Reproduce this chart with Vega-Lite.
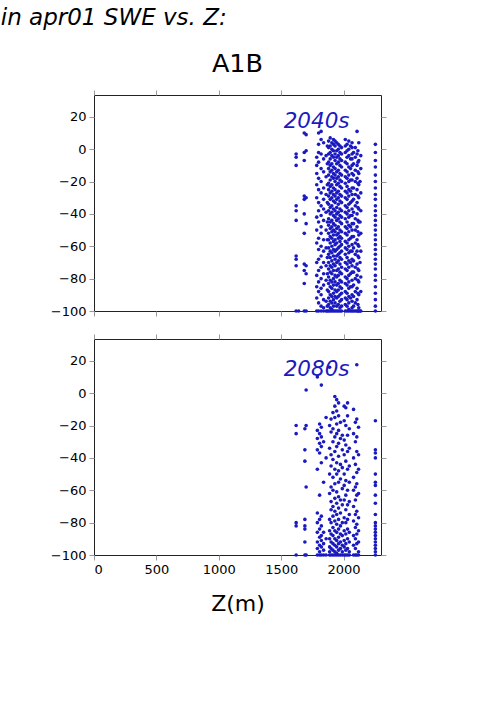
{
"$schema": "https://vega.github.io/schema/vega-lite/v6.json",
"padding": {"left": 0, "top": 6, "right": 5, "bottom": 5},
"config": {
  "font": "DejaVu Sans",
  "view": {"stroke": "#222", "strokeWidth": 1},
  "axis": {"labelFont": "DejaVu Sans", "labelFontSize": 13, "labelColor": "black", "tickColor": "#999", "tickSize": 5, "domain": false, "grid": false, "labelPadding": 3, "titleFont": "DejaVu Sans", "titleFontWeight": "normal", "titleColor": "black", "format": "d"}
},
"title": {"text": "in apr01 SWE vs. Z:", "anchor": "start", "frame": "bounds", "fontStyle": "italic", "fontWeight": "normal", "fontSize": 23, "font": "DejaVu Sans", "color": "black", "dx": -49, "offset": 22},
"datasets": {
"labs": [{"t": "2040s", "z": 1784, "s": 13}, {"t": "2080s", "z": 1784, "s": 10.5}],
"pts": [
{"t":"2040s","z":1620,"s":-3},{"t":"2040s","z":1620,"s":-5},{"t":"2040s","z":1620,"s":-10},{"t":"2040s","z":1620,"s":-35},{"t":"2040s","z":1620,"s":-38},{"t":"2040s","z":1620,"s":-44},{"t":"2040s","z":1620,"s":-66},{"t":"2040s","z":1620,"s":-68},{"t":"2040s","z":1620,"s":-72},{"t":"2040s","z":1620,"s":-100},
{"t":"2040s","z":1640,"s":-100},
{"t":"2040s","z":1685,"s":10},{"t":"2040s","z":1685,"s":-2},{"t":"2040s","z":1685,"s":-7},{"t":"2040s","z":1685,"s":-29},{"t":"2040s","z":1685,"s":-31},{"t":"2040s","z":1685,"s":-40},{"t":"2040s","z":1685,"s":-52},{"t":"2040s","z":1685,"s":-71},{"t":"2040s","z":1685,"s":-75},{"t":"2040s","z":1685,"s":-83},{"t":"2040s","z":1685,"s":-100},
{"t":"2040s","z":1700,"s":9},{"t":"2040s","z":1700,"s":-1},{"t":"2040s","z":1700,"s":-30},{"t":"2040s","z":1700,"s":-46},{"t":"2040s","z":1700,"s":-72},{"t":"2040s","z":1700,"s":-77},{"t":"2040s","z":1700,"s":-100},
{"t":"2040s","z":1785,"s":-5},{"t":"2040s","z":1785,"s":-10},{"t":"2040s","z":1785,"s":-15},{"t":"2040s","z":1785,"s":-22},{"t":"2040s","z":1785,"s":-30},{"t":"2040s","z":1785,"s":-42},{"t":"2040s","z":1785,"s":-50},{"t":"2040s","z":1785,"s":-58},{"t":"2040s","z":1785,"s":-70},{"t":"2040s","z":1785,"s":-78},{"t":"2040s","z":1785,"s":-85},{"t":"2040s","z":1785,"s":-92},{"t":"2040s","z":1785,"s":-100},
{"t":"2040s","z":1800,"s":10},{"t":"2040s","z":1800,"s":3},{"t":"2040s","z":1800,"s":-2},{"t":"2040s","z":1800,"s":-8},{"t":"2040s","z":1800,"s":-18},{"t":"2040s","z":1800,"s":-25},{"t":"2040s","z":1800,"s":-33},{"t":"2040s","z":1800,"s":-38},{"t":"2040s","z":1800,"s":-45},{"t":"2040s","z":1800,"s":-55},{"t":"2040s","z":1800,"s":-62},{"t":"2040s","z":1800,"s":-68},{"t":"2040s","z":1800,"s":-75},{"t":"2040s","z":1800,"s":-82},{"t":"2040s","z":1800,"s":-88},{"t":"2040s","z":1800,"s":-95},{"t":"2040s","z":1800,"s":-100},
{"t":"2040s","z":1820,"s":11},{"t":"2040s","z":1820,"s":6},{"t":"2040s","z":1820,"s":-3},{"t":"2040s","z":1820,"s":-12},{"t":"2040s","z":1820,"s":-20},{"t":"2040s","z":1820,"s":-27},{"t":"2040s","z":1820,"s":-35},{"t":"2040s","z":1820,"s":-41},{"t":"2040s","z":1820,"s":-48},{"t":"2040s","z":1820,"s":-52},{"t":"2040s","z":1820,"s":-60},{"t":"2040s","z":1820,"s":-66},{"t":"2040s","z":1820,"s":-73},{"t":"2040s","z":1820,"s":-80},{"t":"2040s","z":1820,"s":-86},{"t":"2040s","z":1820,"s":-90},{"t":"2040s","z":1820,"s":-97},{"t":"2040s","z":1820,"s":-100},
{"t":"2040s","z":1840,"s":4},{"t":"2040s","z":1840,"s":-6},{"t":"2040s","z":1840,"s":-14},{"t":"2040s","z":1840,"s":-24},{"t":"2040s","z":1840,"s":-31},{"t":"2040s","z":1840,"s":-37},{"t":"2040s","z":1840,"s":-44},{"t":"2040s","z":1840,"s":-56},{"t":"2040s","z":1840,"s":-63},{"t":"2040s","z":1840,"s":-70},{"t":"2040s","z":1840,"s":-77},{"t":"2040s","z":1840,"s":-84},{"t":"2040s","z":1840,"s":-93},{"t":"2040s","z":1840,"s":-98},{"t":"2040s","z":1840,"s":-100},
{"t":"2040s","z":1860,"s":-4},{"t":"2040s","z":1860,"s":-17},{"t":"2040s","z":1860,"s":-28},{"t":"2040s","z":1860,"s":-39},{"t":"2040s","z":1860,"s":-50},{"t":"2040s","z":1860,"s":-61},{"t":"2040s","z":1860,"s":-72},{"t":"2040s","z":1860,"s":-81},{"t":"2040s","z":1860,"s":-94},{"t":"2040s","z":1860,"s":-100},
{"t":"2040s","z":1870,"s":2},{"t":"2040s","z":1870,"s":-9},{"t":"2040s","z":1870,"s":-22},{"t":"2040s","z":1870,"s":-33},{"t":"2040s","z":1870,"s":-45},{"t":"2040s","z":1870,"s":-56},{"t":"2040s","z":1870,"s":-67},{"t":"2040s","z":1870,"s":-77},{"t":"2040s","z":1870,"s":-87},{"t":"2040s","z":1870,"s":-97},{"t":"2040s","z":1870,"s":-100},
{"t":"2040s","z":1880,"s":5},{"t":"2040s","z":1880,"s":1},{"t":"2040s","z":1880,"s":-3},{"t":"2040s","z":1880,"s":-8},{"t":"2040s","z":1880,"s":-12},{"t":"2040s","z":1880,"s":-16},{"t":"2040s","z":1880,"s":-21},{"t":"2040s","z":1880,"s":-25},{"t":"2040s","z":1880,"s":-29},{"t":"2040s","z":1880,"s":-34},{"t":"2040s","z":1880,"s":-38},{"t":"2040s","z":1880,"s":-43},{"t":"2040s","z":1880,"s":-47},{"t":"2040s","z":1880,"s":-52},{"t":"2040s","z":1880,"s":-56},{"t":"2040s","z":1880,"s":-61},{"t":"2040s","z":1880,"s":-65},{"t":"2040s","z":1880,"s":-70},{"t":"2040s","z":1880,"s":-74},{"t":"2040s","z":1880,"s":-79},{"t":"2040s","z":1880,"s":-83},{"t":"2040s","z":1880,"s":-88},{"t":"2040s","z":1880,"s":-92},{"t":"2040s","z":1880,"s":-96},{"t":"2040s","z":1880,"s":-100},
{"t":"2040s","z":1893,"s":7},{"t":"2040s","z":1893,"s":2},{"t":"2040s","z":1893,"s":-2},{"t":"2040s","z":1893,"s":-6},{"t":"2040s","z":1893,"s":-10},{"t":"2040s","z":1893,"s":-14},{"t":"2040s","z":1893,"s":-19},{"t":"2040s","z":1893,"s":-23},{"t":"2040s","z":1893,"s":-27},{"t":"2040s","z":1893,"s":-31},{"t":"2040s","z":1893,"s":-36},{"t":"2040s","z":1893,"s":-40},{"t":"2040s","z":1893,"s":-45},{"t":"2040s","z":1893,"s":-49},{"t":"2040s","z":1893,"s":-54},{"t":"2040s","z":1893,"s":-58},{"t":"2040s","z":1893,"s":-63},{"t":"2040s","z":1893,"s":-67},{"t":"2040s","z":1893,"s":-72},{"t":"2040s","z":1893,"s":-76},{"t":"2040s","z":1893,"s":-81},{"t":"2040s","z":1893,"s":-85},{"t":"2040s","z":1893,"s":-90},{"t":"2040s","z":1893,"s":-94},{"t":"2040s","z":1893,"s":-98},{"t":"2040s","z":1893,"s":-100},
{"t":"2040s","z":1906,"s":4},{"t":"2040s","z":1906,"s":0},{"t":"2040s","z":1906,"s":-4},{"t":"2040s","z":1906,"s":-9},{"t":"2040s","z":1906,"s":-13},{"t":"2040s","z":1906,"s":-17},{"t":"2040s","z":1906,"s":-22},{"t":"2040s","z":1906,"s":-26},{"t":"2040s","z":1906,"s":-30},{"t":"2040s","z":1906,"s":-35},{"t":"2040s","z":1906,"s":-39},{"t":"2040s","z":1906,"s":-44},{"t":"2040s","z":1906,"s":-48},{"t":"2040s","z":1906,"s":-51},{"t":"2040s","z":1906,"s":-55},{"t":"2040s","z":1906,"s":-60},{"t":"2040s","z":1906,"s":-64},{"t":"2040s","z":1906,"s":-69},{"t":"2040s","z":1906,"s":-73},{"t":"2040s","z":1906,"s":-77},{"t":"2040s","z":1906,"s":-82},{"t":"2040s","z":1906,"s":-86},{"t":"2040s","z":1906,"s":-91},{"t":"2040s","z":1906,"s":-95},{"t":"2040s","z":1906,"s":-99},{"t":"2040s","z":1906,"s":-100},
{"t":"2040s","z":1919,"s":6},{"t":"2040s","z":1919,"s":3},{"t":"2040s","z":1919,"s":-1},{"t":"2040s","z":1919,"s":-5},{"t":"2040s","z":1919,"s":-11},{"t":"2040s","z":1919,"s":-15},{"t":"2040s","z":1919,"s":-18},{"t":"2040s","z":1919,"s":-24},{"t":"2040s","z":1919,"s":-28},{"t":"2040s","z":1919,"s":-32},{"t":"2040s","z":1919,"s":-37},{"t":"2040s","z":1919,"s":-41},{"t":"2040s","z":1919,"s":-46},{"t":"2040s","z":1919,"s":-50},{"t":"2040s","z":1919,"s":-53},{"t":"2040s","z":1919,"s":-57},{"t":"2040s","z":1919,"s":-62},{"t":"2040s","z":1919,"s":-66},{"t":"2040s","z":1919,"s":-71},{"t":"2040s","z":1919,"s":-75},{"t":"2040s","z":1919,"s":-80},{"t":"2040s","z":1919,"s":-84},{"t":"2040s","z":1919,"s":-89},{"t":"2040s","z":1919,"s":-93},{"t":"2040s","z":1919,"s":-97},{"t":"2040s","z":1919,"s":-100},
{"t":"2040s","z":1932,"s":5},{"t":"2040s","z":1932,"s":2},{"t":"2040s","z":1932,"s":-3},{"t":"2040s","z":1932,"s":-7},{"t":"2040s","z":1932,"s":-12},{"t":"2040s","z":1932,"s":-16},{"t":"2040s","z":1932,"s":-20},{"t":"2040s","z":1932,"s":-25},{"t":"2040s","z":1932,"s":-29},{"t":"2040s","z":1932,"s":-33},{"t":"2040s","z":1932,"s":-38},{"t":"2040s","z":1932,"s":-42},{"t":"2040s","z":1932,"s":-47},{"t":"2040s","z":1932,"s":-51},{"t":"2040s","z":1932,"s":-56},{"t":"2040s","z":1932,"s":-59},{"t":"2040s","z":1932,"s":-63},{"t":"2040s","z":1932,"s":-68},{"t":"2040s","z":1932,"s":-72},{"t":"2040s","z":1932,"s":-78},{"t":"2040s","z":1932,"s":-82},{"t":"2040s","z":1932,"s":-87},{"t":"2040s","z":1932,"s":-91},{"t":"2040s","z":1932,"s":-95},{"t":"2040s","z":1932,"s":-100},
{"t":"2040s","z":1945,"s":4},{"t":"2040s","z":1945,"s":-1},{"t":"2040s","z":1945,"s":-5},{"t":"2040s","z":1945,"s":-9},{"t":"2040s","z":1945,"s":-14},{"t":"2040s","z":1945,"s":-18},{"t":"2040s","z":1945,"s":-22},{"t":"2040s","z":1945,"s":-27},{"t":"2040s","z":1945,"s":-31},{"t":"2040s","z":1945,"s":-36},{"t":"2040s","z":1945,"s":-40},{"t":"2040s","z":1945,"s":-44},{"t":"2040s","z":1945,"s":-49},{"t":"2040s","z":1945,"s":-53},{"t":"2040s","z":1945,"s":-58},{"t":"2040s","z":1945,"s":-62},{"t":"2040s","z":1945,"s":-66},{"t":"2040s","z":1945,"s":-70},{"t":"2040s","z":1945,"s":-75},{"t":"2040s","z":1945,"s":-79},{"t":"2040s","z":1945,"s":-84},{"t":"2040s","z":1945,"s":-88},{"t":"2040s","z":1945,"s":-92},{"t":"2040s","z":1945,"s":-97},{"t":"2040s","z":1945,"s":-100},
{"t":"2040s","z":1958,"s":3},{"t":"2040s","z":1958,"s":0},{"t":"2040s","z":1958,"s":-4},{"t":"2040s","z":1958,"s":-8},{"t":"2040s","z":1958,"s":-13},{"t":"2040s","z":1958,"s":-17},{"t":"2040s","z":1958,"s":-21},{"t":"2040s","z":1958,"s":-26},{"t":"2040s","z":1958,"s":-30},{"t":"2040s","z":1958,"s":-34},{"t":"2040s","z":1958,"s":-39},{"t":"2040s","z":1958,"s":-43},{"t":"2040s","z":1958,"s":-48},{"t":"2040s","z":1958,"s":-52},{"t":"2040s","z":1958,"s":-55},{"t":"2040s","z":1958,"s":-61},{"t":"2040s","z":1958,"s":-65},{"t":"2040s","z":1958,"s":-69},{"t":"2040s","z":1958,"s":-74},{"t":"2040s","z":1958,"s":-78},{"t":"2040s","z":1958,"s":-83},{"t":"2040s","z":1958,"s":-87},{"t":"2040s","z":1958,"s":-91},{"t":"2040s","z":1958,"s":-96},{"t":"2040s","z":1958,"s":-100},
{"t":"2040s","z":1971,"s":2},{"t":"2040s","z":1971,"s":-2},{"t":"2040s","z":1971,"s":-6},{"t":"2040s","z":1971,"s":-10},{"t":"2040s","z":1971,"s":-15},{"t":"2040s","z":1971,"s":-19},{"t":"2040s","z":1971,"s":-23},{"t":"2040s","z":1971,"s":-28},{"t":"2040s","z":1971,"s":-32},{"t":"2040s","z":1971,"s":-37},{"t":"2040s","z":1971,"s":-41},{"t":"2040s","z":1971,"s":-45},{"t":"2040s","z":1971,"s":-50},{"t":"2040s","z":1971,"s":-54},{"t":"2040s","z":1971,"s":-57},{"t":"2040s","z":1971,"s":-60},{"t":"2040s","z":1971,"s":-64},{"t":"2040s","z":1971,"s":-67},{"t":"2040s","z":1971,"s":-71},{"t":"2040s","z":1971,"s":-76},{"t":"2040s","z":1971,"s":-81},{"t":"2040s","z":1971,"s":-85},{"t":"2040s","z":1971,"s":-90},{"t":"2040s","z":1971,"s":-94},{"t":"2040s","z":1971,"s":-98},{"t":"2040s","z":1971,"s":-100},
{"t":"2040s","z":1984,"s":1},{"t":"2040s","z":1984,"s":-3},{"t":"2040s","z":1984,"s":-7},{"t":"2040s","z":1984,"s":-11},{"t":"2040s","z":1984,"s":-16},{"t":"2040s","z":1984,"s":-20},{"t":"2040s","z":1984,"s":-24},{"t":"2040s","z":1984,"s":-29},{"t":"2040s","z":1984,"s":-33},{"t":"2040s","z":1984,"s":-38},{"t":"2040s","z":1984,"s":-42},{"t":"2040s","z":1984,"s":-46},{"t":"2040s","z":1984,"s":-51},{"t":"2040s","z":1984,"s":-55},{"t":"2040s","z":1984,"s":-59},{"t":"2040s","z":1984,"s":-63},{"t":"2040s","z":1984,"s":-68},{"t":"2040s","z":1984,"s":-73},{"t":"2040s","z":1984,"s":-77},{"t":"2040s","z":1984,"s":-82},{"t":"2040s","z":1984,"s":-86},{"t":"2040s","z":1984,"s":-89},{"t":"2040s","z":1984,"s":-93},{"t":"2040s","z":1984,"s":-97},{"t":"2040s","z":1984,"s":-100},
{"t":"2040s","z":2068,"s":4},{"t":"2040s","z":2068,"s":1},{"t":"2040s","z":2068,"s":-3},{"t":"2040s","z":2068,"s":-6},{"t":"2040s","z":2068,"s":-10},{"t":"2040s","z":2068,"s":-15},{"t":"2040s","z":2068,"s":-19},{"t":"2040s","z":2068,"s":-24},{"t":"2040s","z":2068,"s":-28},{"t":"2040s","z":2068,"s":-32},{"t":"2040s","z":2068,"s":-37},{"t":"2040s","z":2068,"s":-41},{"t":"2040s","z":2068,"s":-46},{"t":"2040s","z":2068,"s":-50},{"t":"2040s","z":2068,"s":-54},{"t":"2040s","z":2068,"s":-59},{"t":"2040s","z":2068,"s":-63},{"t":"2040s","z":2068,"s":-68},{"t":"2040s","z":2068,"s":-72},{"t":"2040s","z":2068,"s":-76},{"t":"2040s","z":2068,"s":-81},{"t":"2040s","z":2068,"s":-85},{"t":"2040s","z":2068,"s":-90},{"t":"2040s","z":2068,"s":-94},{"t":"2040s","z":2068,"s":-98},{"t":"2040s","z":2068,"s":-100},
{"t":"2040s","z":2014,"s":6},{"t":"2040s","z":2014,"s":2},{"t":"2040s","z":2014,"s":-2},{"t":"2040s","z":2014,"s":-8},{"t":"2040s","z":2014,"s":-13},{"t":"2040s","z":2014,"s":-17},{"t":"2040s","z":2014,"s":-21},{"t":"2040s","z":2014,"s":-26},{"t":"2040s","z":2014,"s":-30},{"t":"2040s","z":2014,"s":-35},{"t":"2040s","z":2014,"s":-39},{"t":"2040s","z":2014,"s":-43},{"t":"2040s","z":2014,"s":-48},{"t":"2040s","z":2014,"s":-52},{"t":"2040s","z":2014,"s":-57},{"t":"2040s","z":2014,"s":-61},{"t":"2040s","z":2014,"s":-65},{"t":"2040s","z":2014,"s":-70},{"t":"2040s","z":2014,"s":-74},{"t":"2040s","z":2014,"s":-79},{"t":"2040s","z":2014,"s":-83},{"t":"2040s","z":2014,"s":-88},{"t":"2040s","z":2014,"s":-92},{"t":"2040s","z":2014,"s":-96},{"t":"2040s","z":2014,"s":-100},
{"t":"2040s","z":2028,"s":3},{"t":"2040s","z":2028,"s":-1},{"t":"2040s","z":2028,"s":-5},{"t":"2040s","z":2028,"s":-9},{"t":"2040s","z":2028,"s":-14},{"t":"2040s","z":2028,"s":-18},{"t":"2040s","z":2028,"s":-23},{"t":"2040s","z":2028,"s":-27},{"t":"2040s","z":2028,"s":-31},{"t":"2040s","z":2028,"s":-36},{"t":"2040s","z":2028,"s":-40},{"t":"2040s","z":2028,"s":-45},{"t":"2040s","z":2028,"s":-49},{"t":"2040s","z":2028,"s":-53},{"t":"2040s","z":2028,"s":-58},{"t":"2040s","z":2028,"s":-62},{"t":"2040s","z":2028,"s":-67},{"t":"2040s","z":2028,"s":-71},{"t":"2040s","z":2028,"s":-75},{"t":"2040s","z":2028,"s":-80},{"t":"2040s","z":2028,"s":-84},{"t":"2040s","z":2028,"s":-89},{"t":"2040s","z":2028,"s":-93},{"t":"2040s","z":2028,"s":-97},{"t":"2040s","z":2028,"s":-100},
{"t":"2040s","z":2042,"s":5},{"t":"2040s","z":2042,"s":0},{"t":"2040s","z":2042,"s":-4},{"t":"2040s","z":2042,"s":-11},{"t":"2040s","z":2042,"s":-16},{"t":"2040s","z":2042,"s":-20},{"t":"2040s","z":2042,"s":-25},{"t":"2040s","z":2042,"s":-29},{"t":"2040s","z":2042,"s":-34},{"t":"2040s","z":2042,"s":-38},{"t":"2040s","z":2042,"s":-42},{"t":"2040s","z":2042,"s":-47},{"t":"2040s","z":2042,"s":-51},{"t":"2040s","z":2042,"s":-56},{"t":"2040s","z":2042,"s":-60},{"t":"2040s","z":2042,"s":-64},{"t":"2040s","z":2042,"s":-69},{"t":"2040s","z":2042,"s":-73},{"t":"2040s","z":2042,"s":-78},{"t":"2040s","z":2042,"s":-82},{"t":"2040s","z":2042,"s":-86},{"t":"2040s","z":2042,"s":-91},{"t":"2040s","z":2042,"s":-95},{"t":"2040s","z":2042,"s":-99},{"t":"2040s","z":2042,"s":-100},
{"t":"2040s","z":2056,"s":2},{"t":"2040s","z":2056,"s":-6},{"t":"2040s","z":2056,"s":-12},{"t":"2040s","z":2056,"s":-19},{"t":"2040s","z":2056,"s":-26},{"t":"2040s","z":2056,"s":-33},{"t":"2040s","z":2056,"s":-41},{"t":"2040s","z":2056,"s":-48},{"t":"2040s","z":2056,"s":-55},{"t":"2040s","z":2056,"s":-63},{"t":"2040s","z":2056,"s":-70},{"t":"2040s","z":2056,"s":-77},{"t":"2040s","z":2056,"s":-85},{"t":"2040s","z":2056,"s":-92},{"t":"2040s","z":2056,"s":-100},
{"t":"2040s","z":2080,"s":-2},{"t":"2040s","z":2080,"s":-9},{"t":"2040s","z":2080,"s":-16},{"t":"2040s","z":2080,"s":-24},{"t":"2040s","z":2080,"s":-31},{"t":"2040s","z":2080,"s":-39},{"t":"2040s","z":2080,"s":-46},{"t":"2040s","z":2080,"s":-54},{"t":"2040s","z":2080,"s":-61},{"t":"2040s","z":2080,"s":-69},{"t":"2040s","z":2080,"s":-76},{"t":"2040s","z":2080,"s":-84},{"t":"2040s","z":2080,"s":-91},{"t":"2040s","z":2080,"s":-97},{"t":"2040s","z":2080,"s":-100},
{"t":"2040s","z":2094,"s":1},{"t":"2040s","z":2094,"s":-5},{"t":"2040s","z":2094,"s":-13},{"t":"2040s","z":2094,"s":-20},{"t":"2040s","z":2094,"s":-28},{"t":"2040s","z":2094,"s":-35},{"t":"2040s","z":2094,"s":-43},{"t":"2040s","z":2094,"s":-50},{"t":"2040s","z":2094,"s":-58},{"t":"2040s","z":2094,"s":-65},{"t":"2040s","z":2094,"s":-73},{"t":"2040s","z":2094,"s":-80},{"t":"2040s","z":2094,"s":-88},{"t":"2040s","z":2094,"s":-95},{"t":"2040s","z":2094,"s":-100},
{"t":"2040s","z":2108,"s":11},{"t":"2040s","z":2108,"s":-3},{"t":"2040s","z":2108,"s":-10},{"t":"2040s","z":2108,"s":-18},{"t":"2040s","z":2108,"s":-25},{"t":"2040s","z":2108,"s":-33},{"t":"2040s","z":2108,"s":-40},{"t":"2040s","z":2108,"s":-48},{"t":"2040s","z":2108,"s":-56},{"t":"2040s","z":2108,"s":-63},{"t":"2040s","z":2108,"s":-71},{"t":"2040s","z":2108,"s":-78},{"t":"2040s","z":2108,"s":-86},{"t":"2040s","z":2108,"s":-93},{"t":"2040s","z":2108,"s":-100},
{"t":"2040s","z":2115,"s":-1},{"t":"2040s","z":2115,"s":-8},{"t":"2040s","z":2115,"s":-14},{"t":"2040s","z":2115,"s":-21},{"t":"2040s","z":2115,"s":-29},{"t":"2040s","z":2115,"s":-36},{"t":"2040s","z":2115,"s":-44},{"t":"2040s","z":2115,"s":-51},{"t":"2040s","z":2115,"s":-59},{"t":"2040s","z":2115,"s":-66},{"t":"2040s","z":2115,"s":-74},{"t":"2040s","z":2115,"s":-81},{"t":"2040s","z":2115,"s":-89},{"t":"2040s","z":2115,"s":-96},{"t":"2040s","z":2115,"s":-100},
{"t":"2040s","z":2122,"s":4},{"t":"2040s","z":2122,"s":-7},{"t":"2040s","z":2122,"s":-15},{"t":"2040s","z":2122,"s":-22},{"t":"2040s","z":2122,"s":-30},{"t":"2040s","z":2122,"s":-37},{"t":"2040s","z":2122,"s":-45},{"t":"2040s","z":2122,"s":-53},{"t":"2040s","z":2122,"s":-60},{"t":"2040s","z":2122,"s":-67},{"t":"2040s","z":2122,"s":-75},{"t":"2040s","z":2122,"s":-82},{"t":"2040s","z":2122,"s":-90},{"t":"2040s","z":2122,"s":-98},{"t":"2040s","z":2122,"s":-100},
{"t":"2040s","z":2132,"s":-20},{"t":"2040s","z":2132,"s":-45},{"t":"2040s","z":2132,"s":-70},{"t":"2040s","z":2132,"s":-100},
{"t":"2040s","z":2138,"s":-4},{"t":"2040s","z":2138,"s":-12},{"t":"2040s","z":2138,"s":-27},{"t":"2040s","z":2138,"s":-38},{"t":"2040s","z":2138,"s":-52},{"t":"2040s","z":2138,"s":-63},{"t":"2040s","z":2138,"s":-79},{"t":"2040s","z":2138,"s":-88},{"t":"2040s","z":2138,"s":-100},
{"t":"2040s","z":2255,"s":3},{"t":"2040s","z":2255,"s":-2},{"t":"2040s","z":2255,"s":-7},{"t":"2040s","z":2255,"s":-11},{"t":"2040s","z":2255,"s":-16},{"t":"2040s","z":2255,"s":-20},{"t":"2040s","z":2255,"s":-24},{"t":"2040s","z":2255,"s":-28},{"t":"2040s","z":2255,"s":-31},{"t":"2040s","z":2255,"s":-35},{"t":"2040s","z":2255,"s":-38},{"t":"2040s","z":2255,"s":-41},{"t":"2040s","z":2255,"s":-44},{"t":"2040s","z":2255,"s":-47},{"t":"2040s","z":2255,"s":-50},{"t":"2040s","z":2255,"s":-53},{"t":"2040s","z":2255,"s":-56},{"t":"2040s","z":2255,"s":-59},{"t":"2040s","z":2255,"s":-62},{"t":"2040s","z":2255,"s":-65},{"t":"2040s","z":2255,"s":-68},{"t":"2040s","z":2255,"s":-71},{"t":"2040s","z":2255,"s":-74},{"t":"2040s","z":2255,"s":-78},{"t":"2040s","z":2255,"s":-81},{"t":"2040s","z":2255,"s":-85},{"t":"2040s","z":2255,"s":-89},{"t":"2040s","z":2255,"s":-93},{"t":"2040s","z":2255,"s":-97},{"t":"2040s","z":2255,"s":-100},
{"t":"2080s","z":1620,"s":-20},{"t":"2080s","z":1620,"s":-25},{"t":"2080s","z":1620,"s":-80},{"t":"2080s","z":1620,"s":-82},{"t":"2080s","z":1620,"s":-100},
{"t":"2080s","z":1690,"s":-22},{"t":"2080s","z":1690,"s":-35},{"t":"2080s","z":1690,"s":-42},{"t":"2080s","z":1690,"s":-78},{"t":"2080s","z":1690,"s":-82},{"t":"2080s","z":1690,"s":-84},{"t":"2080s","z":1690,"s":-92},{"t":"2080s","z":1690,"s":-100},
{"t":"2080s","z":1700,"s":2},{"t":"2080s","z":1700,"s":-20},{"t":"2080s","z":1700,"s":-58},{"t":"2080s","z":1700,"s":-100},
{"t":"2080s","z":1790,"s":10},{"t":"2080s","z":1790,"s":-23},{"t":"2080s","z":1790,"s":-28},{"t":"2080s","z":1790,"s":-35},{"t":"2080s","z":1790,"s":-47},{"t":"2080s","z":1790,"s":-74},{"t":"2080s","z":1790,"s":-80},{"t":"2080s","z":1790,"s":-86},{"t":"2080s","z":1790,"s":-92},{"t":"2080s","z":1790,"s":-96},{"t":"2080s","z":1790,"s":-100},
{"t":"2080s","z":1808,"s":-19},{"t":"2080s","z":1808,"s":-25},{"t":"2080s","z":1808,"s":-31},{"t":"2080s","z":1808,"s":-37},{"t":"2080s","z":1808,"s":-63},{"t":"2080s","z":1808,"s":-78},{"t":"2080s","z":1808,"s":-84},{"t":"2080s","z":1808,"s":-89},{"t":"2080s","z":1808,"s":-94},{"t":"2080s","z":1808,"s":-98},{"t":"2080s","z":1808,"s":-100},
{"t":"2080s","z":1822,"s":5},{"t":"2080s","z":1822,"s":-21},{"t":"2080s","z":1822,"s":-27},{"t":"2080s","z":1822,"s":-33},{"t":"2080s","z":1822,"s":-43},{"t":"2080s","z":1822,"s":-76},{"t":"2080s","z":1822,"s":-82},{"t":"2080s","z":1822,"s":-88},{"t":"2080s","z":1822,"s":-91},{"t":"2080s","z":1822,"s":-95},{"t":"2080s","z":1822,"s":-100},
{"t":"2080s","z":1840,"s":-30},{"t":"2080s","z":1840,"s":-55},{"t":"2080s","z":1840,"s":-86},{"t":"2080s","z":1840,"s":-93},{"t":"2080s","z":1840,"s":-97},{"t":"2080s","z":1840,"s":-100},
{"t":"2080s","z":1860,"s":-15},{"t":"2080s","z":1860,"s":-40},{"t":"2080s","z":1860,"s":-90},{"t":"2080s","z":1860,"s":-100},
{"t":"2080s","z":1888,"s":16},{"t":"2080s","z":1888,"s":-20},{"t":"2080s","z":1888,"s":-34},{"t":"2080s","z":1888,"s":-50},{"t":"2080s","z":1888,"s":-62},{"t":"2080s","z":1888,"s":-78},{"t":"2080s","z":1888,"s":-85},{"t":"2080s","z":1888,"s":-90},{"t":"2080s","z":1888,"s":-95},{"t":"2080s","z":1888,"s":-98},{"t":"2080s","z":1888,"s":-100},
{"t":"2080s","z":1900,"s":-16},{"t":"2080s","z":1900,"s":-24},{"t":"2080s","z":1900,"s":-38},{"t":"2080s","z":1900,"s":-45},{"t":"2080s","z":1900,"s":-58},{"t":"2080s","z":1900,"s":-67},{"t":"2080s","z":1900,"s":-72},{"t":"2080s","z":1900,"s":-80},{"t":"2080s","z":1900,"s":-87},{"t":"2080s","z":1900,"s":-92},{"t":"2080s","z":1900,"s":-96},{"t":"2080s","z":1900,"s":-100},
{"t":"2080s","z":1915,"s":-12},{"t":"2080s","z":1915,"s":-22},{"t":"2080s","z":1915,"s":-30},{"t":"2080s","z":1915,"s":-41},{"t":"2080s","z":1915,"s":-52},{"t":"2080s","z":1915,"s":-60},{"t":"2080s","z":1915,"s":-70},{"t":"2080s","z":1915,"s":-76},{"t":"2080s","z":1915,"s":-83},{"t":"2080s","z":1915,"s":-88},{"t":"2080s","z":1915,"s":-93},{"t":"2080s","z":1915,"s":-97},{"t":"2080s","z":1915,"s":-100},
{"t":"2080s","z":1930,"s":-2},{"t":"2080s","z":1930,"s":-8},{"t":"2080s","z":1930,"s":-15},{"t":"2080s","z":1930,"s":-27},{"t":"2080s","z":1930,"s":-36},{"t":"2080s","z":1930,"s":-47},{"t":"2080s","z":1930,"s":-56},{"t":"2080s","z":1930,"s":-65},{"t":"2080s","z":1930,"s":-73},{"t":"2080s","z":1930,"s":-79},{"t":"2080s","z":1930,"s":-85},{"t":"2080s","z":1930,"s":-90},{"t":"2080s","z":1930,"s":-94},{"t":"2080s","z":1930,"s":-98},{"t":"2080s","z":1930,"s":-100},
{"t":"2080s","z":1945,"s":-4},{"t":"2080s","z":1945,"s":-11},{"t":"2080s","z":1945,"s":-19},{"t":"2080s","z":1945,"s":-25},{"t":"2080s","z":1945,"s":-33},{"t":"2080s","z":1945,"s":-43},{"t":"2080s","z":1945,"s":-50},{"t":"2080s","z":1945,"s":-61},{"t":"2080s","z":1945,"s":-68},{"t":"2080s","z":1945,"s":-75},{"t":"2080s","z":1945,"s":-81},{"t":"2080s","z":1945,"s":-86},{"t":"2080s","z":1945,"s":-91},{"t":"2080s","z":1945,"s":-95},{"t":"2080s","z":1945,"s":-99},{"t":"2080s","z":1945,"s":-100},
{"t":"2080s","z":1960,"s":-6},{"t":"2080s","z":1960,"s":-14},{"t":"2080s","z":1960,"s":-23},{"t":"2080s","z":1960,"s":-31},{"t":"2080s","z":1960,"s":-39},{"t":"2080s","z":1960,"s":-48},{"t":"2080s","z":1960,"s":-55},{"t":"2080s","z":1960,"s":-64},{"t":"2080s","z":1960,"s":-71},{"t":"2080s","z":1960,"s":-78},{"t":"2080s","z":1960,"s":-84},{"t":"2080s","z":1960,"s":-89},{"t":"2080s","z":1960,"s":-93},{"t":"2080s","z":1960,"s":-97},{"t":"2080s","z":1960,"s":-100},
{"t":"2080s","z":1975,"s":-18},{"t":"2080s","z":1975,"s":-28},{"t":"2080s","z":1975,"s":-44},{"t":"2080s","z":1975,"s":-53},{"t":"2080s","z":1975,"s":-66},{"t":"2080s","z":1975,"s":-74},{"t":"2080s","z":1975,"s":-82},{"t":"2080s","z":1975,"s":-87},{"t":"2080s","z":1975,"s":-92},{"t":"2080s","z":1975,"s":-96},{"t":"2080s","z":1975,"s":-100},
{"t":"2080s","z":1990,"s":-26},{"t":"2080s","z":1990,"s":-35},{"t":"2080s","z":1990,"s":-46},{"t":"2080s","z":1990,"s":-59},{"t":"2080s","z":1990,"s":-69},{"t":"2080s","z":1990,"s":-80},{"t":"2080s","z":1990,"s":-88},{"t":"2080s","z":1990,"s":-94},{"t":"2080s","z":1990,"s":-98},{"t":"2080s","z":1990,"s":-100},
{"t":"2080s","z":2005,"s":-8},{"t":"2080s","z":2005,"s":-17},{"t":"2080s","z":2005,"s":-29},{"t":"2080s","z":2005,"s":-38},{"t":"2080s","z":2005,"s":-50},{"t":"2080s","z":2005,"s":-57},{"t":"2080s","z":2005,"s":-66},{"t":"2080s","z":2005,"s":-77},{"t":"2080s","z":2005,"s":-85},{"t":"2080s","z":2005,"s":-91},{"t":"2080s","z":2005,"s":-95},{"t":"2080s","z":2005,"s":-100},
{"t":"2080s","z":2018,"s":-9},{"t":"2080s","z":2018,"s":-20},{"t":"2080s","z":2018,"s":-32},{"t":"2080s","z":2018,"s":-42},{"t":"2080s","z":2018,"s":-54},{"t":"2080s","z":2018,"s":-63},{"t":"2080s","z":2018,"s":-72},{"t":"2080s","z":2018,"s":-80},{"t":"2080s","z":2018,"s":-87},{"t":"2080s","z":2018,"s":-93},{"t":"2080s","z":2018,"s":-97},{"t":"2080s","z":2018,"s":-100},
{"t":"2080s","z":2032,"s":-6},{"t":"2080s","z":2032,"s":-14},{"t":"2080s","z":2032,"s":-26},{"t":"2080s","z":2032,"s":-36},{"t":"2080s","z":2032,"s":-47},{"t":"2080s","z":2032,"s":-60},{"t":"2080s","z":2032,"s":-69},{"t":"2080s","z":2032,"s":-78},{"t":"2080s","z":2032,"s":-84},{"t":"2080s","z":2032,"s":-90},{"t":"2080s","z":2032,"s":-96},{"t":"2080s","z":2032,"s":-100},
{"t":"2080s","z":2046,"s":-22},{"t":"2080s","z":2046,"s":-34},{"t":"2080s","z":2046,"s":-45},{"t":"2080s","z":2046,"s":-55},{"t":"2080s","z":2046,"s":-67},{"t":"2080s","z":2046,"s":-75},{"t":"2080s","z":2046,"s":-86},{"t":"2080s","z":2046,"s":-92},{"t":"2080s","z":2046,"s":-98},{"t":"2080s","z":2046,"s":-100},
{"t":"2080s","z":2080,"s":-10},{"t":"2080s","z":2080,"s":-25},{"t":"2080s","z":2080,"s":-40},{"t":"2080s","z":2080,"s":-52},{"t":"2080s","z":2080,"s":-60},{"t":"2080s","z":2080,"s":-70},{"t":"2080s","z":2080,"s":-79},{"t":"2080s","z":2080,"s":-88},{"t":"2080s","z":2080,"s":-94},{"t":"2080s","z":2080,"s":-100},
{"t":"2080s","z":2095,"s":-18},{"t":"2080s","z":2095,"s":-30},{"t":"2080s","z":2095,"s":-44},{"t":"2080s","z":2095,"s":-58},{"t":"2080s","z":2095,"s":-66},{"t":"2080s","z":2095,"s":-75},{"t":"2080s","z":2095,"s":-83},{"t":"2080s","z":2095,"s":-90},{"t":"2080s","z":2095,"s":-96},{"t":"2080s","z":2095,"s":-100},
{"t":"2080s","z":2106,"s":17.6},{"t":"2080s","z":2106,"s":-16},{"t":"2080s","z":2106,"s":-27},{"t":"2080s","z":2106,"s":-36},{"t":"2080s","z":2106,"s":-49},{"t":"2080s","z":2106,"s":-56},{"t":"2080s","z":2106,"s":-63},{"t":"2080s","z":2106,"s":-73},{"t":"2080s","z":2106,"s":-81},{"t":"2080s","z":2106,"s":-87},{"t":"2080s","z":2106,"s":-93},{"t":"2080s","z":2106,"s":-100},
{"t":"2080s","z":2120,"s":-21},{"t":"2080s","z":2120,"s":-38},{"t":"2080s","z":2120,"s":-47},{"t":"2080s","z":2120,"s":-62},{"t":"2080s","z":2120,"s":-77},{"t":"2080s","z":2120,"s":-85},{"t":"2080s","z":2120,"s":-92},{"t":"2080s","z":2120,"s":-98},{"t":"2080s","z":2120,"s":-100},
{"t":"2080s","z":2255,"s":-17},{"t":"2080s","z":2255,"s":-35},{"t":"2080s","z":2255,"s":-37},{"t":"2080s","z":2255,"s":-40},{"t":"2080s","z":2255,"s":-50},{"t":"2080s","z":2255,"s":-55},{"t":"2080s","z":2255,"s":-57},{"t":"2080s","z":2255,"s":-63},{"t":"2080s","z":2255,"s":-68},{"t":"2080s","z":2255,"s":-75},{"t":"2080s","z":2255,"s":-80},{"t":"2080s","z":2255,"s":-82},{"t":"2080s","z":2255,"s":-84},{"t":"2080s","z":2255,"s":-86},{"t":"2080s","z":2255,"s":-88},{"t":"2080s","z":2255,"s":-90},{"t":"2080s","z":2255,"s":-92},{"t":"2080s","z":2255,"s":-94},{"t":"2080s","z":2255,"s":-96},{"t":"2080s","z":2255,"s":-98},{"t":"2080s","z":2255,"s":-100}
]
},
"spacing": 14,
"vconcat": [
{
  "width": 287, "height": 216,
  "title": {"text": "A1B", "fontSize": 25.5, "fontWeight": "normal", "anchor": "middle", "color": "black", "offset": 12},
  "layer": [
    {"data": {"name": "pts"}, "transform": [{"filter": "datum.t === '2040s'"}],
     "mark": {"type": "circle", "size": 13, "opacity": 1, "color": "#1a1abf"},
     "encoding": {
       "x": {"field": "z", "type": "quantitative", "scale": {"domain": [0, 2300], "nice": false, "zero": false}, "axis": {"orient": "bottom", "values": [0, 500, 1000, 1500, 2000], "labels": false, "title": null}},
       "y": {"field": "s", "type": "quantitative", "scale": {"domain": [-100, 33.5], "nice": false, "zero": false}, "axis": {"orient": "left", "values": [-100, -80, -60, -40, -20, 0, 20], "title": null}}
     }},
    {"data": {"name": "labs"}, "transform": [{"filter": "datum.t === '2040s'"}],
     "mark": {"type": "text", "fontStyle": "italic", "fontSize": 21.5, "color": "#1a1abf", "align": "center", "baseline": "alphabetic", "font": "DejaVu Sans"},
     "encoding": {
       "x": {"field": "z", "type": "quantitative", "scale": {"domain": [0, 2300], "nice": false, "zero": false}, "axis": {"orient": "top", "values": [0, 500, 1000, 1500, 2000], "labels": false, "title": null}},
       "y": {"field": "s", "type": "quantitative", "scale": {"domain": [-100, 33.5], "nice": false, "zero": false}, "axis": {"orient": "right", "values": [-100, -80, -60, -40, -20, 0, 20], "labels": false, "title": null}},
       "text": {"field": "t"}
     }}
  ],
  "resolve": {"axis": {"x": "independent", "y": "independent"}}
},
{
  "width": 287, "height": 216,
  "layer": [
    {"data": {"name": "pts"}, "transform": [{"filter": "datum.t === '2080s'"}],
     "mark": {"type": "circle", "size": 13, "opacity": 1, "color": "#1a1abf"},
     "encoding": {
       "x": {"field": "z", "type": "quantitative", "scale": {"domain": [0, 2300], "nice": false, "zero": false}, "axis": {"orient": "bottom", "values": [0, 500, 1000, 1500, 2000], "title": "Z(m)", "titleFontSize": 22, "titlePadding": 17}},
       "y": {"field": "s", "type": "quantitative", "scale": {"domain": [-100, 33.5], "nice": false, "zero": false}, "axis": {"orient": "left", "values": [-100, -80, -60, -40, -20, 0, 20], "title": null}}
     }},
    {"data": {"name": "labs"}, "transform": [{"filter": "datum.t === '2080s'"}],
     "mark": {"type": "text", "fontStyle": "italic", "fontSize": 21.5, "color": "#1a1abf", "align": "center", "baseline": "alphabetic", "font": "DejaVu Sans"},
     "encoding": {
       "x": {"field": "z", "type": "quantitative", "scale": {"domain": [0, 2300], "nice": false, "zero": false}, "axis": {"orient": "top", "values": [0, 500, 1000, 1500, 2000], "labels": false, "title": null}},
       "y": {"field": "s", "type": "quantitative", "scale": {"domain": [-100, 33.5], "nice": false, "zero": false}, "axis": {"orient": "right", "values": [-100, -80, -60, -40, -20, 0, 20], "labels": false, "title": null}},
       "text": {"field": "t"}
     }}
  ],
  "resolve": {"axis": {"x": "independent", "y": "independent"}}
}
]
}
